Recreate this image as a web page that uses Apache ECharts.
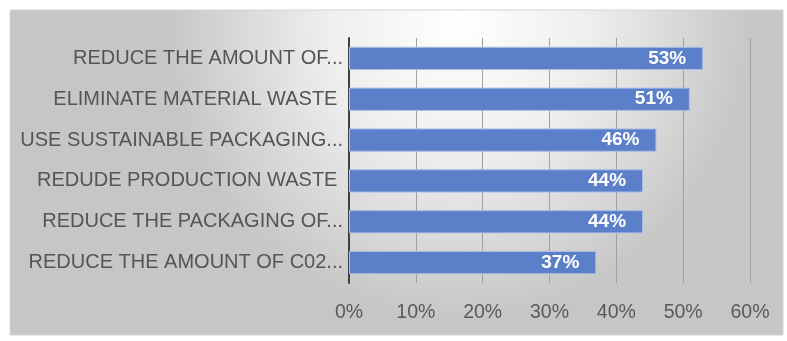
<!DOCTYPE html>
<html><head><meta charset="utf-8">
<script src="https://cdn.jsdelivr.net/npm/echarts@6/dist/echarts.min.js"></script>
<style>html,body{margin:0;padding:0;background:#fff}#c{width:787px;height:341px}</style>
</head><body><div id="c"></div>
<script>
const categories = [
  "REDUCE THE AMOUNT OF...",
  "ELIMINATE MATERIAL WASTE ",
  "USE SUSTAINABLE PACKAGING...",
  "REDUDE PRODUCTION WASTE ",
  "REDUCE THE PACKAGING OF...",
  "REDUCE THE AMOUNT OF C02..."
];
const values = [53, 51, 46, 44, 44, 37];
const xTicks = [0, 10, 20, 30, 40, 50, 60];

const chart = echarts.init(document.getElementById('c'), null, {renderer: 'canvas'});
const font = 'Liberation Sans';
chart.setOption({
  animation: false,
  backgroundColor: '#fff',
  graphic: [{
    type: 'rect', z: -10, silent: true,
    shape: {x: 10, y: 10, width: 773, height: 325},
    style: {
      fill: {type: 'radial', x: 0.58, y: 0.05, r: 0.9,
        colorStops: [{offset: 0, color: '#ffffff'}, {offset: 0.45, color: '#eeeeee'}, {offset: 1, color: '#c6c6c6'}]},
      stroke: '#d4d4d4', lineWidth: 1
    }
  }],
  grid: {left: 349, right: 37, top: 38, bottom: 58, containLabel: false},
  xAxis: {
    type: 'value', min: xTicks[0], max: xTicks[xTicks.length - 1], interval: 10,
    axisLine: {show: false}, axisTick: {show: false},
    splitLine: {lineStyle: {color: '#a0a0a0', width: 1}},
    axisLabel: {formatter: '{value}%', color: '#595959', fontFamily: font, fontSize: 19.5, margin: 20}
  },
  yAxis: {
    type: 'category', data: categories, inverse: true,
    axisLine: {lineStyle: {color: '#404040', width: 2}},
    axisTick: {show: false},
    axisLabel: {color: '#555555', fontFamily: font, fontSize: 20, margin: 6}
  },
  series: [{
    type: 'bar', data: values, barCategoryGap: '43%',
    itemStyle: {color: '#5b80c9', borderColor: '#a9bfe6', borderWidth: 1},
    label: {show: true, position: 'insideRight', distance: 17, formatter: '{c}%',
      color: '#fff', fontWeight: 'bold', fontFamily: font, fontSize: 19}
  }]
});
</script></body></html>
